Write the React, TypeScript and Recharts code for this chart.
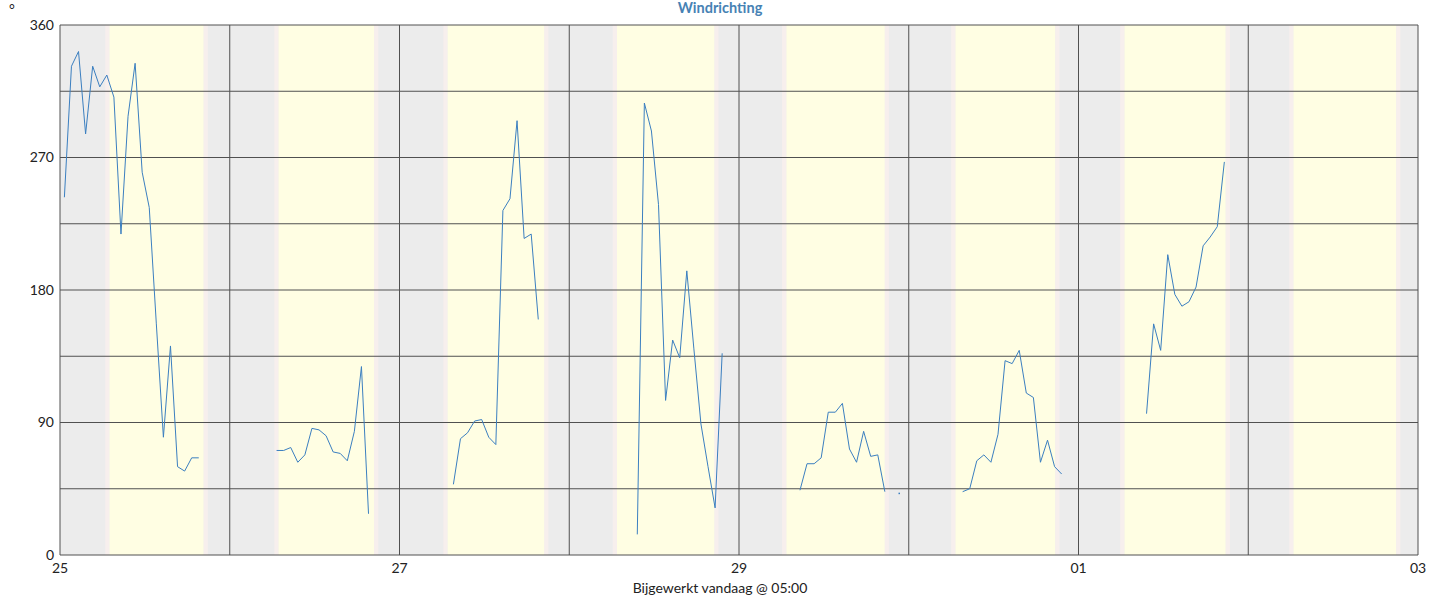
import {
  LineChart,
  Line,
  XAxis,
  YAxis,
  ReferenceArea,
  ReferenceLine,
} from "recharts";

// hourly wind direction (degrees), one array per day, null = no reading
const day25 = [243, 332, 342, 286, 332, 318, 326, 311, 218, 298, 334, 260, 236, 157, 80, 142, 60, 57, 66, 66, null, null, null, null];
const day26 = [null, null, null, null, null, null, 71, 71, 73, 63, 68, 86, 85, 81, 70, 69, 64, 84, 128, 28, null, null, null, null];
const day27 = [null, null, null, null, null, null, null, 48, 79, 83, 91, 92, 80, 75, 234, 242, 295, 215, 218, 160, null, null, null, null];
const day28 = [null, null, null, null, null, null, null, null, null, 14, 307, 288, 238, 105, 146, 134, 193, 140, 89, 60, 32, 137, null, null];
const day29 = [null, null, null, null, null, null, null, null, 44, 62, 62, 66, 97, 97, 103, 72, 63, 84, 67, 68, 43, null, 42, null];
const day30 = [null, null, null, null, null, null, null, 43, 45, 64, 68, 63, 82, 132, 130, 139, 110, 107, 63, 78, 60, 55, null, null];
const day01 = [null, null, null, null, null, null, null, null, null, 96, 157, 139, 204, 177, 169, 172, 182, 210, 216, 223, 267, null, null, null];

// readings are taken at hh:37
const readingOffset = 0.62;

const dayLabels = ["25", "26", "27", "28", "29", "30", "01", "02", "03"];

// daylight (hours) per day: sunrise / sunset
const sunrise = [7.0, 6.9, 6.8, 6.75, 6.7, 6.6, 6.5, 6.4];
const sunset = [20.3, 20.4, 20.45, 20.5, 20.6, 20.7, 20.8, 20.9];

const yTicks = [0, 45, 90, 135, 180, 225, 270, 315, 360];

const LINE = "#3b7fc0";
const GRID = "#505050";
const FONT = "Lato, 'DejaVu Sans', sans-serif";

const values = [...day25, ...day26, ...day27, ...day28, ...day29, ...day30, ...day01];
const data = values.map((v, i) => ({ t: i + readingOffset, dir: v }));
const dayTicks = dayLabels.map((_, i) => i * 24);

const IsolatedDot = (props: any) => {
  const { cx, cy, index } = props;
  const v = values[index];
  const lone = v != null && values[index - 1] == null && values[index + 1] == null;
  if (!lone || cx == null || cy == null) return <g key={`d${index}`} />;
  return <rect key={`d${index}`} x={cx - 0.5} y={cy - 0.5} width={1.5} height={1.5} fill={LINE} />;
};

export default function App() {
  return (
    <div style={{ position: "absolute", left: 0, top: 0, width: 1440, height: 600, background: "#fff", fontFamily: FONT }}>
      <div style={{ position: "absolute", left: 0, width: 1440, top: 1, textAlign: "center", fontSize: 14.5, lineHeight: "14px", fontWeight: 700, color: "#4682b4" }}>
        Windrichting
      </div>
      <div style={{ position: "absolute", left: 9, top: 2, fontSize: 14, lineHeight: "14px", color: "#222" }}>°</div>
      <LineChart width={1440} height={600} data={data} margin={{ top: 25, right: 22, left: 0, bottom: 0 }}>
        <XAxis
          type="number"
          dataKey="t"
          domain={[0, 192]}
          ticks={dayTicks}
          interval={0}
          tickFormatter={(v: number) => {
            const i = Math.round(v / 24);
            return i % 2 === 0 ? dayLabels[i] : "";
          }}
          height={45}
          axisLine={false}
          tickLine={false}
          tickSize={0}
          tickMargin={8}
          tick={{ fill: "#222", fontSize: 14, fontFamily: FONT }}
        />
        <YAxis
          type="number"
          domain={[0, 360]}
          ticks={yTicks}
          interval={0}
          tickFormatter={(v: number) => (v % 90 === 0 ? String(v) : "")}
          width={60}
          axisLine={false}
          tickLine={false}
          tickSize={0}
          tickMargin={6}
          tick={{ fill: "#222", fontSize: 14, fontFamily: FONT }}
        />
        <ReferenceArea x1={0} x2={192} y1={0} y2={360} fill="#ececec" fillOpacity={1} stroke="none" />
        {sunrise.map((sr, d) => (
          <ReferenceArea key={`tr${d}`} x1={d * 24 + sr - 0.6} x2={d * 24 + sr} y1={0} y2={360} fill="#f7efed" fillOpacity={1} stroke="none" />
        ))}
        {sunset.map((ss, d) => (
          <ReferenceArea key={`ts${d}`} x1={d * 24 + ss} x2={d * 24 + ss + 0.6} y1={0} y2={360} fill="#f7efed" fillOpacity={1} stroke="none" />
        ))}
        {sunrise.map((sr, d) => (
          <ReferenceArea key={`day${d}`} x1={d * 24 + sr} x2={d * 24 + sunset[d]} y1={0} y2={360} fill="#fffee3" fillOpacity={1} stroke="none" />
        ))}
        {yTicks.map((y) => (
          <ReferenceLine key={`h${y}`} y={y} stroke={GRID} strokeWidth={1} />
        ))}
        {dayTicks.map((x) => (
          <ReferenceLine key={`v${x}`} x={x} stroke={GRID} strokeWidth={1} />
        ))}
        <Line
          type="linear"
          dataKey="dir"
          stroke={LINE}
          strokeWidth={1}
          dot={IsolatedDot}
          activeDot={false}
          connectNulls={false}
          isAnimationActive={false}
        />
      </LineChart>
      <div style={{ position: "absolute", left: 0, width: 1440, top: 581, textAlign: "center", fontSize: 14, lineHeight: "14px", color: "#222" }}>
        Bijgewerkt vandaag @ 05:00
      </div>
    </div>
  );
}
